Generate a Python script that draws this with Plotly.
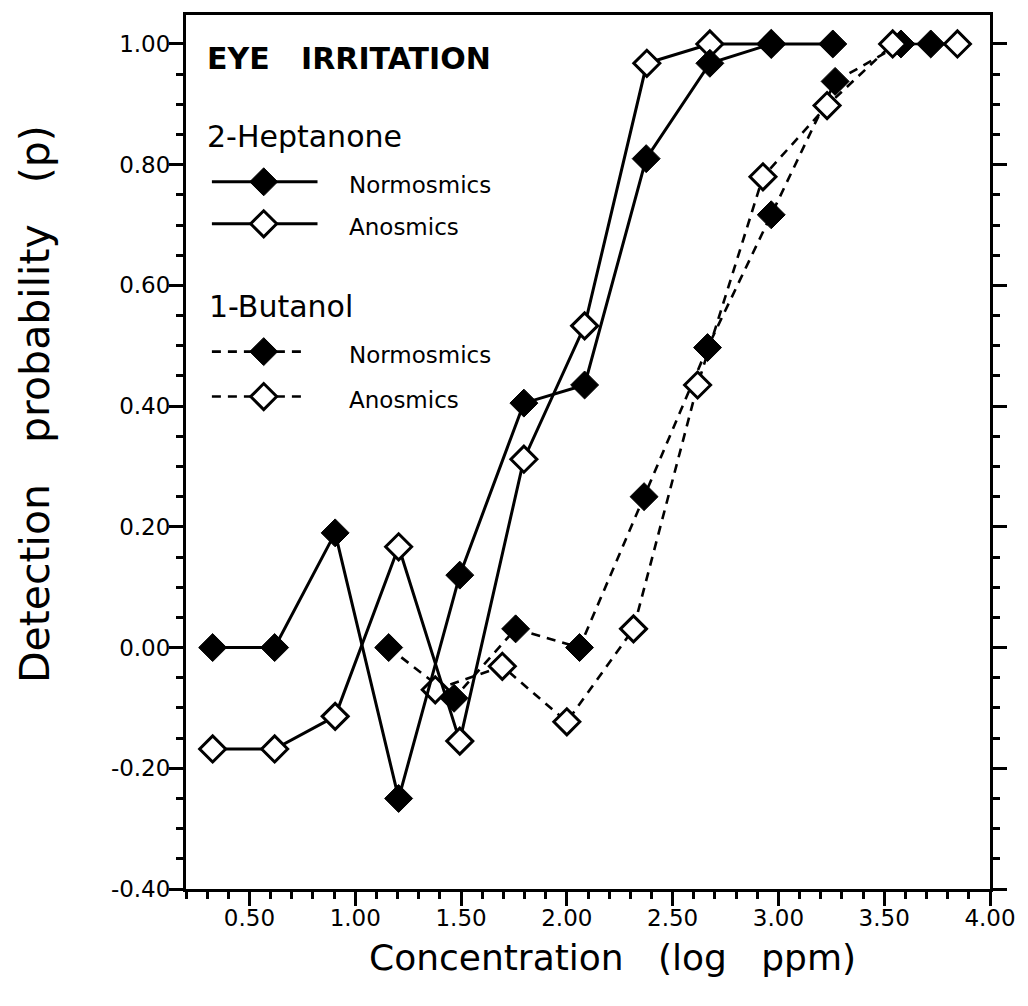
import plotly.graph_objects as go

# ---------------- data ----------------
hep_norm_x = [0.326, 0.619, 0.905, 1.205, 1.494, 1.797, 2.084, 2.375, 2.676, 2.966, 3.257]
hep_norm_y = [0.00, 0.00, 0.19, -0.25, 0.12, 0.405, 0.435, 0.81, 0.968, 1.00, 1.00]

hep_anos_x = [0.326, 0.619, 0.905, 1.205, 1.494, 1.797, 2.084, 2.378, 2.676, 2.966]
hep_anos_y = [-0.168, -0.168, -0.114, 0.167, -0.155, 0.312, 0.533, 0.968, 1.00, 1.00]

but_norm_x = [1.158, 1.467, 1.758, 2.06, 2.365, 2.665, 2.966, 3.268, 3.579, 3.72]
but_norm_y = [0.00, -0.084, 0.031, 0.00, 0.25, 0.497, 0.717, 0.938, 1.00, 1.00]

but_anos_x = [1.378, 1.695, 2.0, 2.315, 2.618, 2.927, 3.23, 3.54, 3.846]
but_anos_y = [-0.07, -0.031, -0.123, 0.031, 0.435, 0.78, 0.898, 1.00, 1.00]

x_tickvals = [0.5, 1.0, 1.5, 2.0, 2.5, 3.0, 3.5, 4.0]
y_tickvals = [-0.4, -0.2, 0.0, 0.2, 0.4, 0.6, 0.8, 1.0]

chart_title = "EYE\u00a0\u00a0\u00a0IRRITATION"
group_names = ["2-Heptanone", "1-Butanol"]
item_names = ["Normosmics", "Anosmics"]
x_title = "Concentration\u00a0\u00a0\u00a0(log\u00a0\u00a0\u00a0ppm)"
y_title = "Detection\u2002\u2002probability\u2002\u2002(p)"

# ---------------- styles / layout ----------------
FONT = "DejaVu Sans"
W, H = 1028, 1006
ML, MR, MT, MB = 186, 35, 14, 117
SOLID = dict(color="black", width=3)
DASHED = dict(color="black", width=2.6, dash="9px,7px")
FILLED = dict(symbol="diamond", size=21.5, color="black", line=dict(color="black", width=1))
OPEN = dict(symbol="diamond", size=20, color="white", line=dict(color="black", width=3))


def px_to_paper(px, py):
    return (px - ML) / (W - ML - MR), (H - MB - py) / (H - MT - MB)


fig = go.Figure()

series = [
    (but_norm_x, but_norm_y, DASHED, FILLED),
    (but_anos_x, but_anos_y, DASHED, OPEN),
    (hep_anos_x, hep_anos_y, SOLID, OPEN),
    (hep_norm_x, hep_norm_y, SOLID, FILLED),
]
for xs, ys, ln, mk in series:
    fig.add_trace(go.Scatter(x=xs, y=ys, mode="lines+markers", line=ln, marker=mk,
                             cliponaxis=False, hoverinfo="skip"))

# ---------------- hand-drawn legend (overlay axes in pixel units) ----------------
L_LEFT, L_RIGHT, L_MARK, L_TEXT = 212, 318, 264, 348
legend_rows = [
    (181, SOLID, FILLED, item_names[0]),
    (223, SOLID, OPEN, item_names[1]),
    (351, DASHED, FILLED, item_names[0]),
    (396, DASHED, OPEN, item_names[1]),
]
for yy, ln, mk, name in legend_rows:
    right = L_RIGHT if ln is SOLID else 308
    fig.add_trace(go.Scatter(x=[L_LEFT, right], y=[yy, yy], mode="lines", line=ln,
                             xaxis="x2", yaxis="y2", hoverinfo="skip"))
    fig.add_trace(go.Scatter(x=[L_MARK], y=[yy], mode="markers", marker=mk,
                             xaxis="x2", yaxis="y2", hoverinfo="skip"))
    fig.add_annotation(x=L_TEXT, y=yy + 3, xref="x2", yref="y2", text=name, showarrow=False,
                       xanchor="left", yanchor="middle", font=dict(family=FONT, size=23, color="black"))

fig.add_annotation(x=205, y=58, xref="x2", yref="y2", text="<b>" + chart_title + "</b>", showarrow=False,
                   xanchor="left", yanchor="middle", font=dict(family=FONT, size=30, color="black"))
fig.add_annotation(x=205, y=136, xref="x2", yref="y2", text=group_names[0], showarrow=False,
                   xanchor="left", yanchor="middle", font=dict(family=FONT, size=30, color="black"))
fig.add_annotation(x=207, y=306, xref="x2", yref="y2", text=group_names[1], showarrow=False,
                   xanchor="left", yanchor="middle", font=dict(family=FONT, size=30, color="black"))

# axis titles (paper coordinates, placed outside the plot area)
xt_x, xt_y = px_to_paper(614, 958)
fig.add_annotation(x=xt_x, y=xt_y, xref="paper", yref="paper", text=x_title, showarrow=False,
                   xanchor="center", yanchor="middle", font=dict(family=FONT, size=36, color="black"))
yt_x, yt_y = px_to_paper(34, 404)
fig.add_annotation(x=yt_x, y=yt_y, xref="paper", yref="paper", text=y_title, showarrow=False,
                   textangle=-90, xanchor="center", yanchor="middle",
                   font=dict(family=FONT, size=41, color="black"))

axis_common = dict(showgrid=False, zeroline=False, showline=True, linewidth=3, linecolor="black",
                   ticks="outside", ticklen=14, tickwidth=2.5, tickcolor="black",
                   tickfont=dict(family=FONT, size=23, color="black"), tickmode="array")

fig.update_layout(
    width=W, height=H,
    margin=dict(l=ML, r=MR, t=MT, b=MB),
    plot_bgcolor="white", paper_bgcolor="white",
    showlegend=False,
    font=dict(family=FONT, color="black"),
    xaxis=dict(range=[0.2, 4.0], tickvals=x_tickvals, ticktext=[f"{v:.2f}" for v in x_tickvals],
               mirror=True, ticklabelstandoff=-8,
               minor=dict(tickmode="linear", tick0=0, dtick=0.1, ticks="outside", ticklen=7,
                          tickwidth=2.5, tickcolor="black"),
               **axis_common),
    yaxis=dict(range=[-0.4, 1.048], tickvals=y_tickvals, ticktext=[f"{v:.2f}" for v in y_tickvals],
               mirror="allticks", ticklabelstandoff=-6,
               minor=dict(tickmode="linear", tick0=0, dtick=0.05, ticks="outside", ticklen=7,
                          tickwidth=2.5, tickcolor="black"),
               **axis_common),
    xaxis2=dict(overlaying="x", anchor="y2", range=[186, 993], visible=False, fixedrange=True),
    yaxis2=dict(overlaying="y", anchor="x2", range=[889, 14], visible=False, fixedrange=True),
)

fig.write_html("out.html")
